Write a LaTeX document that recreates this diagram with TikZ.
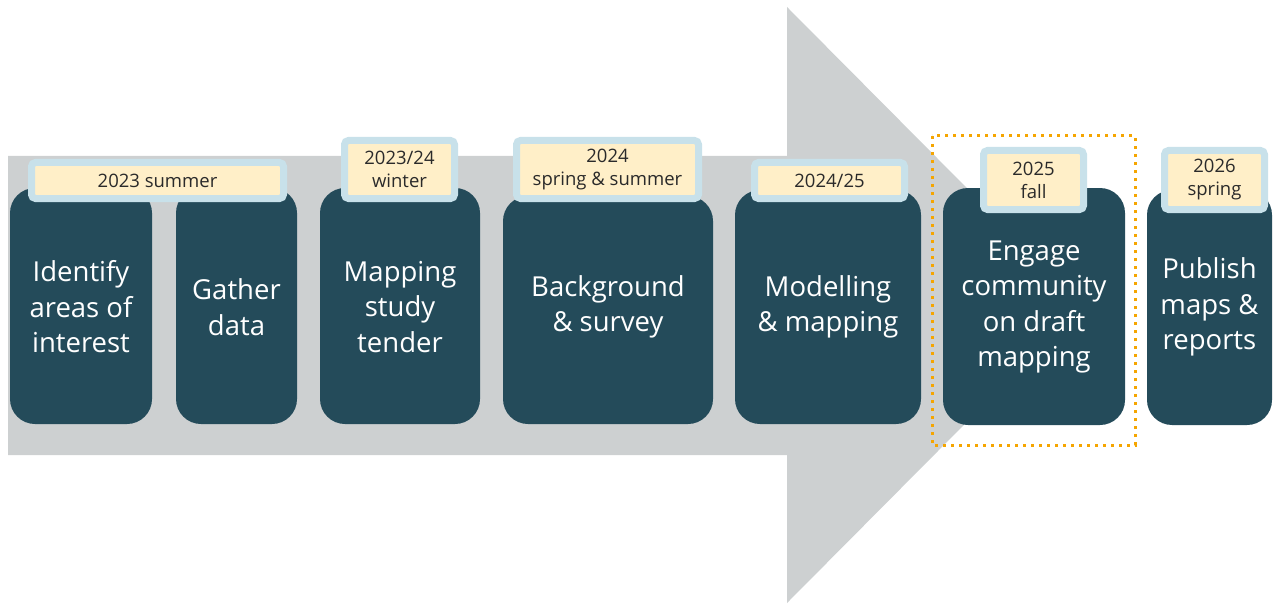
\documentclass[tikz,border=0pt]{standalone}
\usepackage{fontspec}
\setmainfont{Open Sans}
\definecolor{arrowgray}{HTML}{CDD0D1}
\definecolor{darkteal}{HTML}{244B5A}
\definecolor{lblue}{HTML}{C8E1EA}
\definecolor{cream}{HTML}{FFEFC8}
\definecolor{dotorange}{HTML}{F5A500}
\definecolor{labeltext}{HTML}{2A2A2A}
\begin{document}
\begin{tikzpicture}[x=1pt,y=-1pt,
  stagebox/.style={rectangle, rounded corners=25pt, fill=darkteal, inner sep=0pt},
  stagetext/.style={text=white, align=center, font=\fontsize{27.5}{35.5}\selectfont, inner sep=0pt},
  datebox/.style={rectangle, rounded corners=4pt, fill=cream, draw=lblue, line width=7pt, inner sep=0pt,
    text=labeltext, align=center, font=\fontsize{18.5}{23}\selectfont}]
\useasboundingbox (0,0) rectangle (1273,604);
% big arrow
\fill[arrowgray] (8,156) -- (787,156) -- (787,7) -- (1083,305) -- (787,603) -- (787,455) -- (8,455) -- cycle;
% stage boxes
\node[stagebox, minimum width=142pt, minimum height=236pt] (b1) at (81,306) {};
\node[stagebox, minimum width=121pt, minimum height=236pt] (b2) at (236.5,306) {};
\node[stagebox, minimum width=160pt, minimum height=236pt] (b3) at (400,306) {};
\node[stagebox, minimum width=210pt, minimum height=228pt] (b4) at (608,310) {};
\node[stagebox, minimum width=186pt, minimum height=234pt] (b5) at (828,307) {};
\node[stagebox, minimum width=182pt, minimum height=237pt] (b6) at (1034,306.5) {};
\node[stagebox, minimum width=125pt, minimum height=235pt] (b7) at (1209.5,307.5) {};
% stage texts
\node[stagetext] (t1) at (81,307) {Identify\\areas of\\interest};
\node[stagetext] (t2) at (236.5,307) {Gather\\data};
\node[stagetext] (t3) at (400,307) {Mapping\\study\\tender};
\node[stagetext] (t4) at (608,307) {Background\\\& survey};
\node[stagetext] (t5) at (828,307) {Modelling\\\& mapping};
\node[stagetext] (t6) at (1034,307) {Engage\\community\\on draft\\mapping};
\node[stagetext] (t7) at (1209.5,307) {Publish\\maps \&\\reports};
% date labels
\node[datebox, minimum width=252pt, minimum height=36pt] (l1) at (157.5,180.5) {2023 summer};
\node[datebox, minimum width=110pt, minimum height=58pt] (l2) at (399.5,169.5) {2023/24\\winter};
\node[datebox, minimum width=182pt, minimum height=58pt] (l3) at (607.5,169.5) {2024\\spring \& summer};
\node[datebox, minimum width=150pt, minimum height=36pt] (l4) at (829.5,180.5) {2024/25};
\node[datebox, minimum width=100pt, minimum height=59pt] (l5) at (1033.5,180) {2025\\fall};
\node[datebox, minimum width=100pt, minimum height=59pt] (l6) at (1214.5,180) {2026\\spring};
% highlight
\draw[dotorange, line width=3pt, dash pattern=on 3pt off 5pt] (932,136) rectangle (1135,445);
\end{tikzpicture}
\end{document}
